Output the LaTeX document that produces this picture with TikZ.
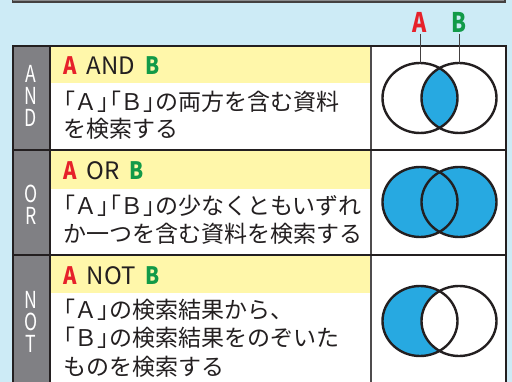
\documentclass[tikz,border=0pt]{standalone}
\usepackage{fontspec}
\setmainfont{Noto Sans CJK JP}
\newfontfamily\jpp[RawFeature=+palt]{Noto Sans CJK JP}
\definecolor{bgc}{HTML}{CDEBF6}
\definecolor{topgray}{HTML}{8C8C8E}
\definecolor{graycol}{HTML}{808084}
\definecolor{yel}{HTML}{FFF7AA}
\definecolor{vblue}{HTML}{27A9E1}
\definecolor{ared}{HTML}{E6212A}
\definecolor{bgreen}{HTML}{129A48}
\definecolor{dark}{HTML}{231F20}
\newcommand{\kl}{{\jpp 「}}
\newcommand{\kr}{{\jpp 」}}
\tikzset{
  body/.style={anchor=base west, inner sep=0pt, text=dark, font=\fontsize{23}{28}\selectfont},
  head/.style={anchor=base west, inner sep=0pt, text=dark, font=\fontsize{24}{28}\selectfont},
  vlet/.style={inner sep=0pt, text=white, font=\fontsize{26}{26}\selectfont},
  lbl/.style={inner sep=1pt, font=\fontsize{27}{27}\selectfont\bfseries},
  venn/.style={line width=2.4pt, draw=dark},
  pin/.style={line width=1pt, draw=dark!85},
}
\newcommand{\hA}{\textcolor{ared}{\bfseries\scalebox{0.85}[1]{A}}}
\newcommand{\hB}{\textcolor{bgreen}{\bfseries\scalebox{0.85}[1]{B}}}
\newcommand{\hs}{\hspace{10pt}}
\newcommand{\vl}[1]{\scalebox{0.68}[0.9]{#1}}
\begin{document}
\begin{tikzpicture}[x=1pt,y=-1pt]
\fill[bgc] (0,0) rectangle (512,382);
\useasboundingbox (0,0) rectangle (512,382);
% top box
\draw[line width=1.6pt, draw=dark!85, fill=topgray] (12.5,-5) rectangle (505,2);
% table fills
\fill[graycol] (13,46) rectangle (50,392);
\fill[white] (50,46) rectangle (506,392);
\fill[yel] (50,46) rectangle (371,83);
\fill[yel] (50,150) rectangle (371,189);
\fill[yel] (50,255) rectangle (371,293);
% table lines
\draw[line width=1.2pt, draw=dark!80] (371,46) -- (371,392);
\draw[line width=1.5pt, draw=dark] (50,46) -- (50,392);
\draw[line width=2pt, draw=dark] (13,150) -- (506,150);
\draw[line width=2pt, draw=dark] (13,255) -- (506,255);
\draw[line width=2pt, draw=dark] (13,392) -- (13,46) -- (506,46) -- (506,392);
% vertical letters
\node[vlet] (g1a) at (31,73.5) {\vl{A}};
\node[vlet] (g1b) at (31,95.5) {\vl{N}};
\node[vlet] (g1c) at (31,117.5) {\vl{D}};
\node[vlet] (g2a) at (31,193.5) {\vl{O}};
\node[vlet] (g2b) at (31,215.5) {\vl{R}};
\node[vlet] (g3a) at (31,299.5) {\vl{N}};
\node[vlet] (g3b) at (31,321.5) {\vl{O}};
\node[vlet] (g3c) at (31,343.5) {\vl{T}};
% headers
\node[head] (h1) at (63,74.5) {\hA\hs AND\hs\hB};
\node[head] (h2) at (63,179.5) {\hA\hs OR\hs\hB};
\node[head] (h3) at (63,284.5) {\hA\hs NOT\hs\hB};
% body text
\node[body] (t11) at (63,110.5) {\kl Ａ\kr\kl Ｂ\kr の両方を含む資料};
\node[body] (t12) at (63,138) {を検索する};
\node[body] (t21) at (63,215) {\kl Ａ\kr\kl Ｂ\kr の少なくともいずれ};
\node[body] (t22) at (63,243) {か一つを含む資料を検索する};
\node[body] (t31) at (63,318.5) {\kl Ａ\kr の検索結果から、};
\node[body] (t32) at (63,347) {\kl Ｂ\kr の検索結果をのぞいた};
\node[body] (t33) at (63,375.5) {ものを検索する};
% Venn AND
\fill[white] (420,98) ellipse [x radius=37.5pt, y radius=35pt];
\fill[white] (459,98) ellipse [x radius=37.5pt, y radius=35pt];
\begin{scope}
  \clip (420,98) ellipse [x radius=37.5pt, y radius=35pt];
  \fill[vblue] (459,98) ellipse [x radius=37.5pt, y radius=35pt];
\end{scope}
\draw[venn] (420,98) ellipse [x radius=37.5pt, y radius=35pt];
\draw[venn] (459,98) ellipse [x radius=37.5pt, y radius=35pt];
% Venn OR
\fill[vblue] (420,202) ellipse [x radius=37.5pt, y radius=35pt];
\fill[vblue] (459,202) ellipse [x radius=37.5pt, y radius=35pt];
\draw[venn] (420,202) ellipse [x radius=37.5pt, y radius=35pt];
\draw[venn] (459,202) ellipse [x radius=37.5pt, y radius=35pt];
% Venn NOT
\fill[vblue] (420,321) ellipse [x radius=37.5pt, y radius=35pt];
\fill[white] (459,321) ellipse [x radius=37.5pt, y radius=35pt];
\draw[venn] (420,321) ellipse [x radius=37.5pt, y radius=35pt];
\draw[venn] (459,321) ellipse [x radius=37.5pt, y radius=35pt];
% labels
\node[lbl, text=ared] (la) at (420,22.5) {\scalebox{0.8}[1]{A}};
\node[lbl, text=bgreen] (lb) at (459,22.5) {\scalebox{0.8}[1]{B}};
\coordinate (ta) at (420,63);
\coordinate (tb) at (459,63);
\draw[pin] (la.south) -- (ta);
\draw[pin] (lb.south) -- (tb);
\end{tikzpicture}
\end{document}
